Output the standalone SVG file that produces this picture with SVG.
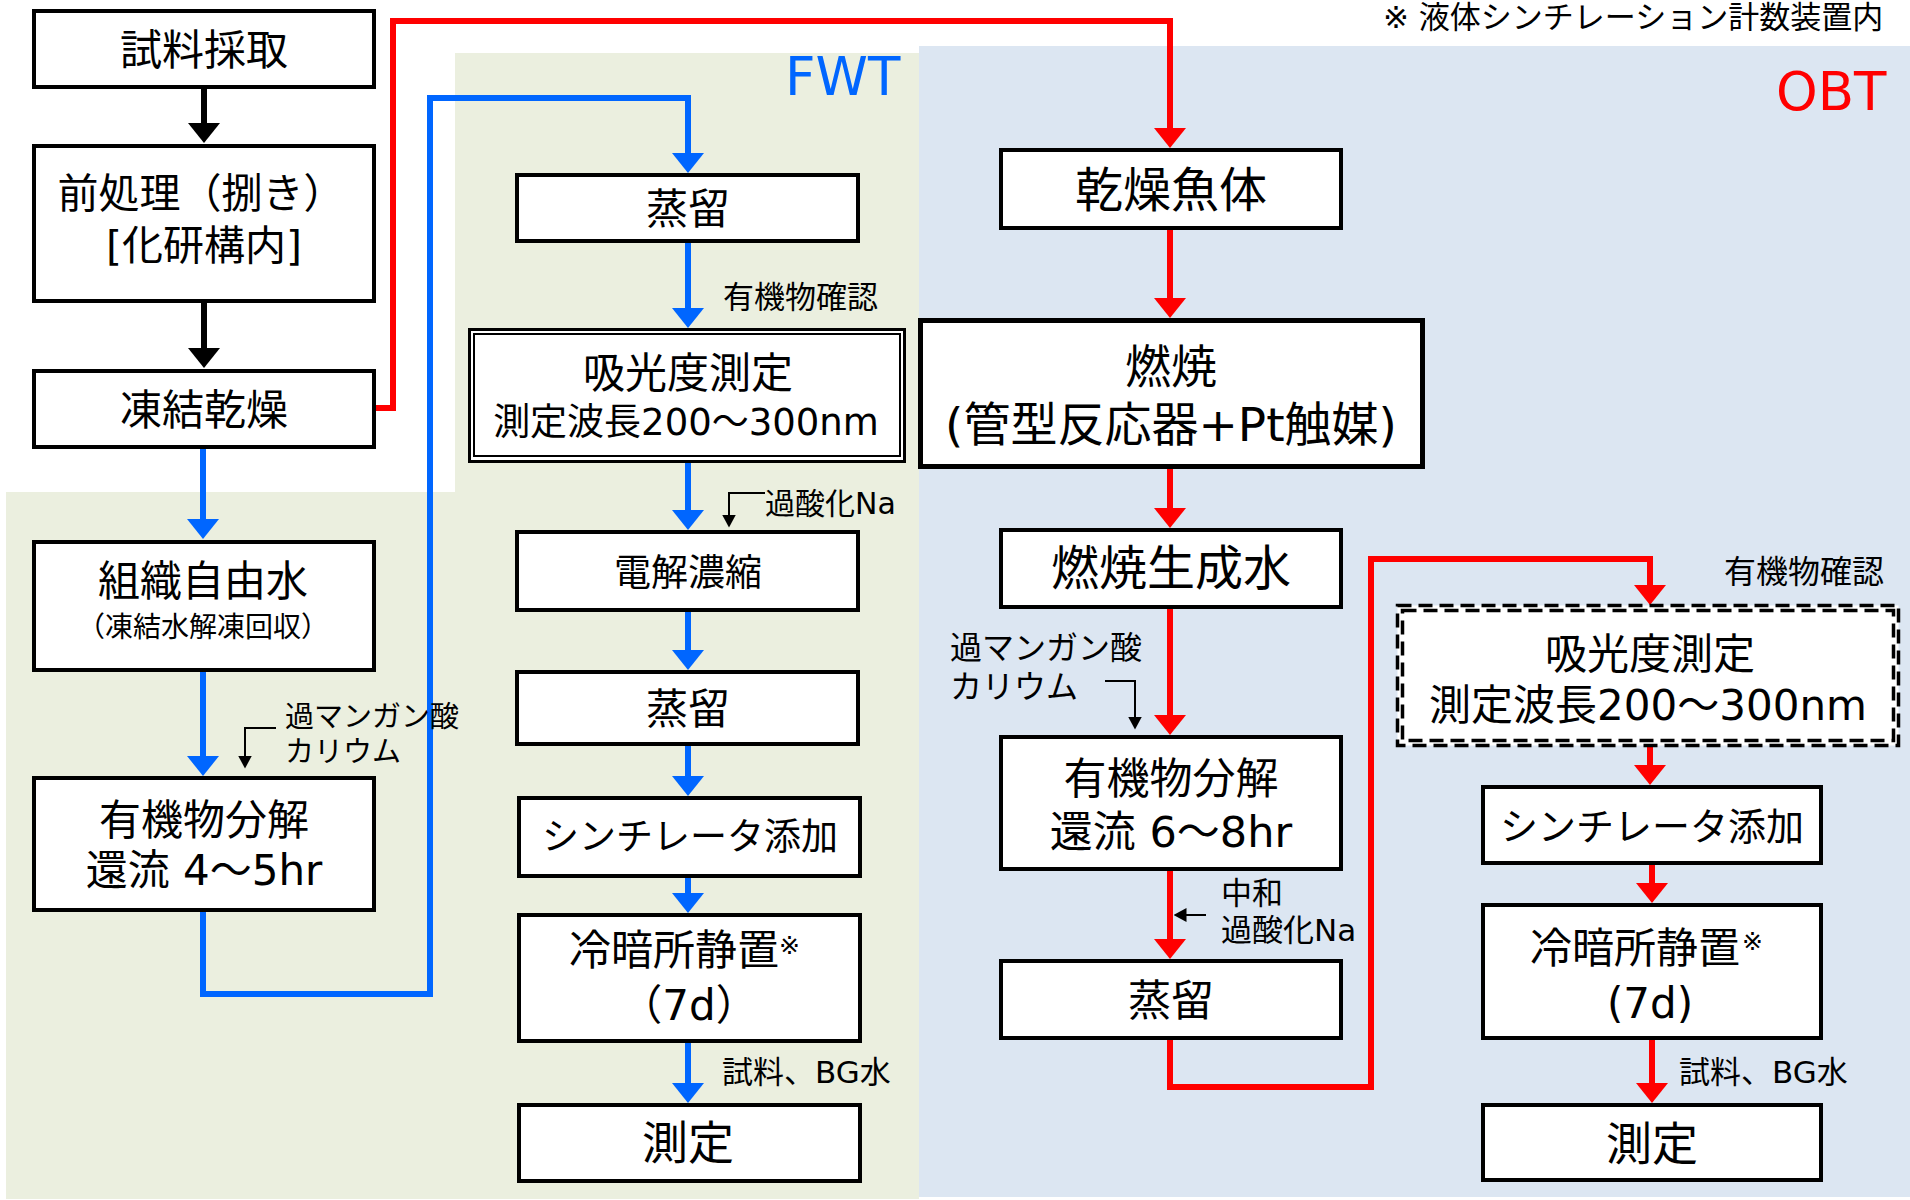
<svg xmlns="http://www.w3.org/2000/svg" width="1910" height="1200" viewBox="0 0 1910 1200">
<defs>
<style>
text{font-family:"DejaVu Sans","Noto Sans CJK JP",sans-serif;fill:#000}
.box{fill:#fff;stroke:#000;stroke-width:4}
.c{text-anchor:middle}
.blue{fill:none;stroke:#0066FF;stroke-width:6}
.red{fill:none;stroke:#FF0000;stroke-width:6}
.blk{fill:none;stroke:#000;stroke-width:6}
.thin{fill:none;stroke:#000;stroke-width:2}
.dash{fill:none;stroke:#000;stroke-width:3.5;stroke-dasharray:14 7}
.lbl{font-size:31px}
</style>
<marker id="ahB" markerUnits="userSpaceOnUse" markerWidth="20" markerHeight="32" viewBox="0 0 20 32" refX="1" refY="16" orient="auto"><path d="M0,0 L20,16 L0,32 z" fill="#0066FF"/></marker>
<marker id="ahR" markerUnits="userSpaceOnUse" markerWidth="20" markerHeight="32" viewBox="0 0 20 32" refX="1" refY="16" orient="auto"><path d="M0,0 L20,16 L0,32 z" fill="#FF0000"/></marker>
<marker id="ahK" markerUnits="userSpaceOnUse" markerWidth="20" markerHeight="32" viewBox="0 0 20 32" refX="1" refY="16" orient="auto"><path d="M0,0 L20,16 L0,32 z" fill="#000"/></marker>
<marker id="ahS" markerUnits="userSpaceOnUse" markerWidth="13" markerHeight="14" viewBox="0 0 13 14" refX="0.5" refY="7" orient="auto"><path d="M0,0 L13,7 L0,14 z" fill="#000"/></marker>
</defs>
<rect x="0" y="0" width="1910" height="1200" fill="#fff"/>
<g id="backgrounds">
<polygon points="455,53 919,53 919,1199 6,1199 6,492 455,492" fill="#EBEFDF"/>
<rect x="919" y="46" width="991" height="1151" fill="#DCE6F2"/>
</g>
<g id="connectors">
<path class="blk" d="M204,89 V124" marker-end="url(#ahK)"/>
<path class="blk" d="M204,303 V349" marker-end="url(#ahK)"/>
<path class="blue" d="M203,449 V520" marker-end="url(#ahB)"/>
<path class="blue" d="M203,671 V757" marker-end="url(#ahB)"/>
<path class="blue" d="M203,912 V994 H430 V98 H688 V154" marker-end="url(#ahB)"/>
<path class="blue" d="M688,243 V309" marker-end="url(#ahB)"/>
<path class="blue" d="M688,463 V511" marker-end="url(#ahB)"/>
<path class="blue" d="M688,612 V651" marker-end="url(#ahB)"/>
<path class="blue" d="M688,746 V777" marker-end="url(#ahB)"/>
<path class="blue" d="M688,878 V894" marker-end="url(#ahB)"/>
<path class="blue" d="M688,1043 V1084" marker-end="url(#ahB)"/>
<path class="red" d="M376,408 H393 V21 H1170 V129" marker-end="url(#ahR)"/>
<path class="red" d="M1170,230 V299" marker-end="url(#ahR)"/>
<path class="red" d="M1170,469 V509" marker-end="url(#ahR)"/>
<path class="red" d="M1170,609 V716" marker-end="url(#ahR)"/>
<path class="red" d="M1170,871 V940" marker-end="url(#ahR)"/>
<path class="red" d="M1170,1040 V1087 H1371 V559 H1650 V586" marker-end="url(#ahR)"/>
<path class="red" d="M1650,746 V766" marker-end="url(#ahR)"/>
<path class="red" d="M1652,865 V884" marker-end="url(#ahR)"/>
<path class="red" d="M1652,1040 V1084" marker-end="url(#ahR)"/>
<path class="thin" d="M276,728 H245 V756" marker-end="url(#ahS)"/>
<path class="thin" d="M765,493 H729 V515" marker-end="url(#ahS)"/>
<path class="thin" d="M1105,681 H1135 V717" marker-end="url(#ahS)"/>
<path class="thin" d="M1206,915 H1186" marker-end="url(#ahS)"/>
</g>
<g id="n-sample"><rect class="box" x="34" y="11" width="340" height="76"/><text class="c" x="204" y="65" font-size="42">試料採取</text></g>
<g id="n-pretreat"><rect class="box" x="34" y="146" width="340" height="155"/><text class="c" x="201" y="208" font-size="41">前処理（捌き）</text><text class="c" x="204" y="260" font-size="41">[化研構内]</text></g>
<g id="n-freezedry"><rect class="box" x="34" y="371" width="340" height="76"/><text class="c" x="204" y="425" font-size="42">凍結乾燥</text></g>
<g id="n-tfwt"><rect class="box" x="34" y="542" width="340" height="128"/><text class="c" x="203" y="596" font-size="42">組織自由水</text><text class="c" x="203" y="637" font-size="28">（凍結水解凍回収）</text></g>
<g id="n-decomp1"><rect class="box" x="34" y="778" width="340" height="132"/><text class="c" x="204" y="835" font-size="42">有機物分解</text><text class="c" x="204" y="885" font-size="42">還流 4～5hr</text></g>
<g id="n-dist1"><rect class="box" x="517" y="175" width="341" height="66"/><text class="c" x="688" y="224" font-size="42">蒸留</text></g>
<g id="n-abs1"><rect x="469.5" y="329.5" width="435" height="132" fill="#fff" stroke="#000" stroke-width="3"/><rect x="474" y="334" width="426" height="122" fill="none" stroke="#000" stroke-width="2"/><text class="c" x="688" y="388" font-size="42">吸光度測定</text><text class="c" x="686" y="435" font-size="37">測定波長200～300nm</text></g>
<g id="n-elec"><rect class="box" x="517" y="532" width="341" height="78"/><text class="c" x="688" y="586" font-size="37">電解濃縮</text></g>
<g id="n-dist2"><rect class="box" x="517" y="672" width="341" height="72"/><text class="c" x="688" y="724" font-size="42">蒸留</text></g>
<g id="n-scint1"><rect class="box" x="519" y="798" width="341" height="78"/><text class="c" x="690" y="850" font-size="37">シンチレータ添加</text></g>
<g id="n-cool1"><rect class="box" x="519" y="915" width="341" height="126"/><text class="c" x="674" y="965" font-size="42">冷暗所静置</text><text x="779" y="954" font-size="25">※</text><text class="c" x="689" y="1020" font-size="42">（7d）</text></g>
<g id="n-meas1"><rect class="box" x="519" y="1105" width="341" height="76"/><text class="c" x="688" y="1159" font-size="46">測定</text></g>
<g id="n-dryfish"><rect class="box" x="1001" y="150" width="340" height="78"/><text class="c" x="1171" y="207" font-size="48">乾燥魚体</text></g>
<g id="n-comb"><rect x="920.5" y="320.5" width="502" height="146" fill="#fff" stroke="#000" stroke-width="5"/><text class="c" x="1171" y="383" font-size="46">燃焼</text><text class="c" x="1171" y="441" font-size="47">(管型反応器+Pt触媒)</text></g>
<g id="n-combwater"><rect class="box" x="1001" y="530" width="340" height="77"/><text class="c" x="1171" y="585" font-size="48">燃焼生成水</text></g>
<g id="n-decomp2"><rect class="box" x="1001" y="737" width="340" height="132"/><text class="c" x="1171" y="794" font-size="43">有機物分解</text><text class="c" x="1171" y="847" font-size="43">還流 6～8hr</text></g>
<g id="n-dist3"><rect class="box" x="1001" y="961" width="340" height="77"/><text class="c" x="1171" y="1016" font-size="43">蒸留</text></g>
<g id="n-abs2"><rect x="1397.5" y="605.5" width="501" height="140" fill="#fff" stroke="none"/><rect class="dash" x="1397.5" y="605.5" width="501" height="140"/><rect class="dash" x="1402.5" y="610.5" width="491" height="130"/><text class="c" x="1650" y="669" font-size="42">吸光度測定</text><text class="c" x="1648" y="720" font-size="42">測定波長200～300nm</text></g>
<g id="n-scint2"><rect class="box" x="1483" y="787" width="338" height="76"/><text class="c" x="1652" y="840" font-size="38">シンチレータ添加</text></g>
<g id="n-cool2"><rect class="box" x="1483" y="905" width="338" height="133"/><text class="c" x="1635" y="963" font-size="42">冷暗所静置</text><text x="1742" y="950" font-size="25">※</text><text class="c" x="1650" y="1018" font-size="42">(7d)</text></g>
<g id="n-meas2"><rect class="box" x="1483" y="1105" width="338" height="75"/><text class="c" x="1652" y="1160" font-size="46">測定</text></g>
<g id="labels">
<text x="785" y="95" font-size="53" style="fill:#0066FF">FWT</text>
<text x="1776" y="110" font-size="53" style="fill:#FF0000">OBT</text>
<text x="1383" y="28" font-size="31">※ 液体シンチレーション計数装置内</text>
<text class="lbl" x="723" y="308">有機物確認</text>
<text x="285" y="727" font-size="29">過マンガン酸</text>
<text x="285" y="762" font-size="29">カリウム</text>
<text x="765" y="514" font-size="30">過酸化Na</text>
<text class="lbl" x="722" y="1083">試料、BG水</text>
<text x="950" y="659" font-size="32">過マンガン酸</text>
<text x="950" y="698" font-size="32">カリウム</text>
<text class="lbl" x="1221" y="904">中和</text>
<text class="lbl" x="1221" y="941">過酸化Na</text>
<text x="1724" y="583" font-size="32">有機物確認</text>
<text class="lbl" x="1679" y="1083">試料、BG水</text>
</g>
</svg>
